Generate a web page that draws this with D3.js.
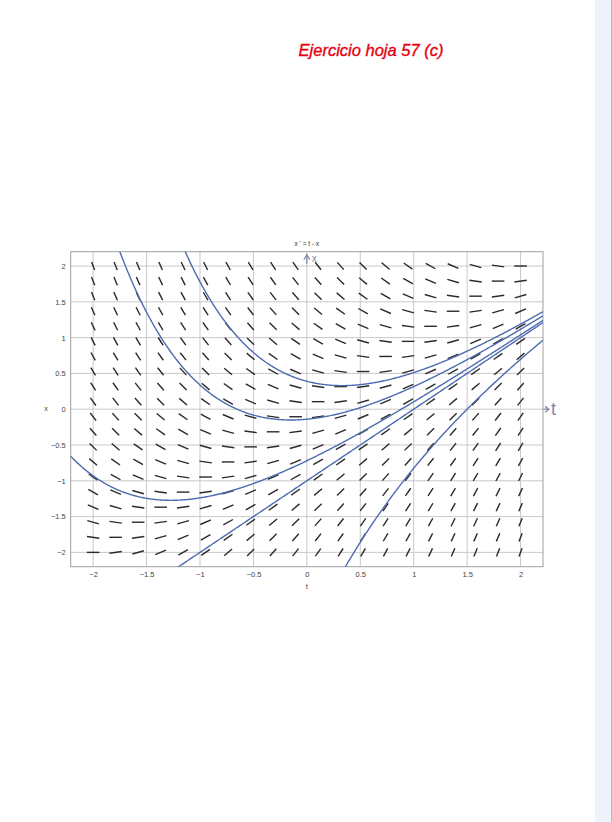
<!DOCTYPE html>
<html><head><meta charset="utf-8">
<script src="https://cdn.jsdelivr.net/npm/d3@7"></script>
<style>body{margin:0;background:#fff;}svg{display:block;}</style>
</head><body>
<svg id="c" width="612" height="822"></svg>
<script>
// ---- data ----
const title = "Ejercicio hoja 57 (c)";
const plotTitle = "x ' = t - x";
const gridT = [-2,-1.7895,-1.5789,-1.3684,-1.1579,-0.9474,-0.7368,-0.5263,-0.3158,-0.1053,0.1053,0.3158,0.5263,0.7368,0.9474,1.1579,1.3684,1.5789,1.7895,2];
const gridX = [-2,-1.7895,-1.5789,-1.3684,-1.1579,-0.9474,-0.7368,-0.5263,-0.3158,-0.1053,0.1053,0.3158,0.5263,0.7368,0.9474,1.1579,1.3684,1.5789,1.7895,2];
const tTicks = [-2,-1.5,-1,-0.5,0,0.5,1,1.5,2];
const xTicks = [-2,-1.5,-1,-0.5,0,0.5,1,1.5,2];
const solutionC = [1.39, 0.86, 0.28, 0, -2.24]; // x = t - 1 + C e^{-t}
const tDomain = [-2.21, 2.21];
const xDomain = [-2.2, 2.2];

const svg = d3.select("#c");
// page edge strip
svg.append("rect").attr("x",595).attr("y",0).attr("width",16).attr("height",822).attr("fill","#eef2f9");
svg.append("line").attr("x1",611.5).attr("x2",611.5).attr("y1",0).attr("y2",822).attr("stroke","#b8b8b8");

svg.append("text").attr("x",371).attr("y",56).attr("text-anchor","middle")
  .attr("font-family","Liberation Sans, Arial, sans-serif").attr("font-style","italic")
  .attr("font-size",16.5).attr("fill","#e3000f").attr("stroke","#e3000f").attr("stroke-width",0.35)
  .text(title);

const L = 70.7, R = 543, T = 251.7, B = 566.7;
const xs = d3.scaleLinear().domain(tDomain).range([L,R]);
const ys = d3.scaleLinear().domain(xDomain).range([B,T]);

const g = svg.append("g");
// grid
g.selectAll(".gv").data(tTicks).join("line").attr("x1",d=>xs(d)).attr("x2",d=>xs(d))
  .attr("y1",T).attr("y2",B).attr("stroke","#c9c9c9").attr("stroke-width",1);
g.selectAll(".gh").data(xTicks).join("line").attr("y1",d=>ys(d)).attr("y2",d=>ys(d))
  .attr("x1",L).attr("x2",R).attr("stroke","#c9c9c9").attr("stroke-width",1);

// axes
const ax = g.append("g").attr("transform",`translate(0,${B})`)
  .call(d3.axisBottom(xs).tickValues(tTicks).tickSize(0).tickPadding(5).tickFormat(d3.format("")));
const ay = g.append("g").attr("transform",`translate(${L},0)`)
  .call(d3.axisLeft(ys).tickValues(xTicks).tickSize(0).tickPadding(5).tickFormat(d3.format("")));
[ax,ay].forEach(a=>{a.select(".domain").remove();
  a.selectAll("text").attr("font-family","Liberation Sans, Arial, sans-serif").attr("font-size",7.5).attr("fill","#444");});

// frame
g.append("rect").attr("x",L).attr("y",T).attr("width",R-L).attr("height",B-T)
  .attr("fill","none").attr("stroke","#a0a0a0").attr("stroke-width",1);

// labels
g.append("text").attr("x",xs(0)).attr("y",246).attr("text-anchor","middle")
  .attr("font-family","Liberation Sans, Arial, sans-serif").attr("font-size",6.5).attr("fill","#333").text(plotTitle);
g.append("text").attr("x",xs(0)).attr("y",589).attr("text-anchor","middle")
  .attr("font-family","Liberation Sans, Arial, sans-serif").attr("font-size",7.5).attr("fill","#444").text("t");
g.append("text").attr("x",46).attr("y",ys(0)+2).attr("text-anchor","middle")
  .attr("font-family","Liberation Sans, Arial, sans-serif").attr("font-size",7.5).attr("fill","#444").text("x");

// direction field
const segLen = 0.118;
const segs = [];
gridT.forEach(t=>gridX.forEach(x=>{
  const s = t - x, n = Math.sqrt(1+s*s);
  const dt = segLen/2/n, dx = segLen/2*s/n;
  segs.push({t1:t-dt,x1:x-dx,t2:t+dt,x2:x+dx});
}));
g.selectAll(".seg").data(segs).join("line")
  .attr("x1",d=>xs(d.t1)).attr("y1",d=>ys(d.x1)).attr("x2",d=>xs(d.t2)).attr("y2",d=>ys(d.x2))
  .attr("stroke","#2a2a2a").attr("stroke-width",1.4);

// solution curves
svg.append("clipPath").attr("id","clip").append("rect").attr("x",L).attr("y",T).attr("width",R-L).attr("height",B-T);
const ts = d3.range(tDomain[0], tDomain[1]+0.001, 0.01);
const line = d3.line().x(d=>xs(d[0])).y(d=>ys(d[1]));
g.append("g").attr("clip-path","url(#clip)").selectAll("path").data(solutionC).join("path")
  .attr("d",C=>line(ts.map(t=>[t, t-1+C*Math.exp(-t)]).filter(p=>Math.abs(p[1])<4)))
  .attr("fill","none").attr("stroke","#4f6bb0").attr("stroke-width",1.4);

// handwritten annotations
const pen = "#7d8aa6";
svg.append("path").attr("d",`M${xs(0)},${T+12} L${xs(0)},${T+3} M${xs(0)-3},${T+8} L${xs(0)},${T+3} L${xs(0)+3},${T+8}`)
  .attr("fill","none").attr("stroke",pen).attr("stroke-width",1.2);
svg.append("text").attr("x",xs(0)+5).attr("y",T+10).attr("font-family","Liberation Sans, sans-serif")
  .attr("font-size",10).attr("fill",pen).text("x");
svg.append("path").attr("d",`M${R},${ys(0)} L${R+6},${ys(0)} M${R+2},${ys(0)-3} L${R+6},${ys(0)} L${R+2},${ys(0)+3}`)
  .attr("fill","none").attr("stroke",pen).attr("stroke-width",1.2);
svg.append("text").attr("x",R+8).attr("y",ys(0)+6).attr("font-family","Liberation Sans, sans-serif")
  .attr("font-size",18).attr("fill",pen).text("t");
</script>
</body></html>
